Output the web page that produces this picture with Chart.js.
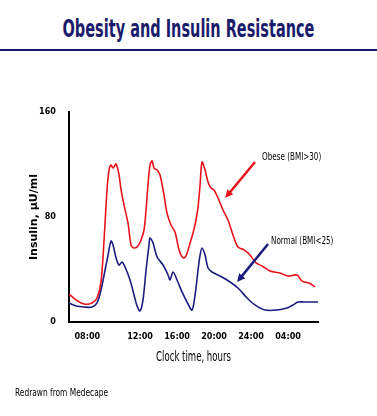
<!DOCTYPE html>
<html>
<head>
<meta charset="utf-8">
<script src="https://cdn.jsdelivr.net/npm/chart.js@4.4.1/dist/chart.umd.min.js"></script>
<style>
  body { margin: 0; background: #fff; }
  #wrap { position: relative; width: 377px; height: 416px; overflow: hidden; }
  #title { position: absolute; left: -200px; top: 14px; width: 777px; text-align: center; white-space: nowrap;
           font-family: "DejaVu Sans Condensed", "DejaVu Sans", sans-serif; font-weight: bold;
           font-size: 25px; color: #1b1b6b; transform: scaleX(0.645); transform-origin: 50% 0; }
  #rule { position: absolute; left: 0; top: 49px; width: 377px; height: 2px; background: #1b1b6b; }
  #note { position: absolute; left: 15px; top: 387px; white-space: nowrap;
          font-family: "DejaVu Sans Condensed", "DejaVu Sans", sans-serif;
          font-size: 10px; color: #000; transform: scaleX(0.83); transform-origin: 0 0; }
  canvas { position: absolute; left: 0; top: 0; }
</style>
</head>
<body>
<div id="wrap">
  <div id="title">Obesity and Insulin Resistance</div>
  <div id="rule"></div>
  <canvas id="myChart" width="377" height="416"></canvas>
  <div id="note">Redrawn from Medecape</div>
</div>
<script>
// values (hours on the clock, insulin in µU/ml)
const obeseHours = [4.32, 5.08, 5.95, 6.81, 7.35, 7.78, 8.11, 8.43, 8.65, 8.86, 9.08, 9.41, 9.73, 9.95, 10.27, 10.70, 11.03, 11.35, 11.78, 12.11, 12.43, 12.65, 12.86, 13.08, 13.30, 13.51, 13.84, 14.16, 14.59, 14.92, 15.35, 15.78, 16.22, 16.65, 16.97, 17.41, 17.73, 18.05, 18.27, 18.49, 18.70, 19.03, 19.35, 19.68, 20.00, 20.43, 20.97, 21.51, 22.05, 22.59, 23.24, 23.89, 24.54, 25.19, 26.05, 27.14, 28.00, 28.97, 29.51, 30.27, 30.92];
const obese = [21.3, 16.8, 13.7, 14.5, 18.3, 30.5, 62.5, 100.6, 115.8, 119.6, 117.3, 120.4, 112, 100.6, 89.1, 75.4, 58.7, 56.4, 57.9, 62.5, 70.1, 85.3, 104.4, 119.6, 122.7, 117.3, 115.8, 112, 96.8, 83, 73.9, 68.6, 54.9, 48.8, 50.3, 60.2, 67.8, 77.7, 87.6, 104.4, 121.9, 115.8, 106.7, 102.1, 100.6, 94.5, 85.3, 77.7, 66.3, 57.1, 54.9, 51, 45, 42.7, 38.9, 37.3, 35, 35.8, 31.2, 29.7, 26.7];

const normalHours = [4.32, 5.08, 5.95, 6.81, 7.35, 7.78, 8.22, 8.54, 8.86, 9.08, 9.41, 9.73, 10.05, 10.38, 10.92, 11.35, 11.68, 12.00, 12.32, 12.65, 12.97, 13.08, 13.41, 13.84, 14.49, 15.03, 15.24, 15.57, 16.00, 16.54, 17.08, 17.62, 17.95, 18.27, 18.49, 18.70, 19.03, 19.35, 19.78, 20.65, 21.73, 22.59, 23.57, 24.43, 25.51, 26.81, 27.89, 28.54, 29.08, 30.16, 31.24];
const normal = [14.5, 12.2, 11.4, 11.4, 14.5, 24.4, 39.6, 51, 61.7, 58.7, 48.8, 43.4, 45.7, 41.9, 32, 20.6, 12.2, 8.4, 16.8, 39.6, 58.7, 64, 60.2, 49.5, 43.4, 35.8, 32, 38.1, 32, 22.9, 15.2, 9.1, 20.6, 39.6, 51, 56.4, 51, 41.1, 38.1, 35, 30.5, 25.9, 18.3, 13, 9.1, 9.1, 10.7, 13, 15.2, 15.2, 15.2];

// the original puts its first label left of where 08:00 would fall
const tickHours = [6.3, 12, 16, 20, 24, 28];
const tickLabels = ['08:00', '12:00', '16:00', '20:00', '24:00', '04:00'];

const narrow = '"DejaVu Sans Condensed", "DejaVu Sans", sans-serif';

// labels with arrows, in data coordinates
const callouts = [
  { text: 'Obese (BMI>30)', color: '#e8141b', at: [25.19, 125.7], from: [24.43, 121.9], to: [21.2, 94.5] },
  { text: 'Normal (BMI<25)', color: '#1c1c80', at: [26.16, 61.7], from: [25.84, 59.4], to: [22.49, 30.5] }
];

// narrow text, squeezed sideways like the original's condensed face
function squeezed(ctx, text, x, y, sx, align) {
  ctx.save();
  ctx.translate(x, y);
  ctx.scale(sx, 1);
  ctx.textAlign = align;
  ctx.textBaseline = 'middle';
  ctx.fillText(text, 0, 0);
  ctx.restore();
}

const arrowPlugin = {
  id: 'arrows',
  afterDatasetsDraw(chart) {
    const ctx = chart.ctx;
    const xs = chart.scales.x, ys = chart.scales.y;
    ctx.save();
    callouts.forEach(c => {
      const x1 = xs.getPixelForValue(c.from[0]), y1 = ys.getPixelForValue(c.from[1]);
      const x2 = xs.getPixelForValue(c.to[0]), y2 = ys.getPixelForValue(c.to[1]);
      const ang = Math.atan2(y2 - y1, x2 - x1);
      const head = 9;
      ctx.strokeStyle = c.color;
      ctx.fillStyle = c.color;
      ctx.lineWidth = 2.5;
      ctx.beginPath();
      ctx.moveTo(x1, y1);
      ctx.lineTo(x2 - Math.cos(ang) * head * 0.8, y2 - Math.sin(ang) * head * 0.8);
      ctx.stroke();
      ctx.beginPath();
      ctx.moveTo(x2, y2);
      ctx.lineTo(x2 - head * Math.cos(ang - 0.45), y2 - head * Math.sin(ang - 0.45));
      ctx.lineTo(x2 - head * Math.cos(ang + 0.45), y2 - head * Math.sin(ang + 0.45));
      ctx.closePath();
      ctx.fill();

      ctx.fillStyle = '#000';
      ctx.font = '10px ' + narrow;
      squeezed(ctx, c.text, xs.getPixelForValue(c.at[0]), ys.getPixelForValue(c.at[1]), 0.8, 'left');
    });
    // x axis title
    ctx.fillStyle = '#000';
    ctx.font = '14px ' + narrow;
    squeezed(ctx, 'Clock time, hours', (xs.left + xs.right) / 2, xs.bottom - 9, 0.68, 'center');
    ctx.restore();
  }
};

const ctx = document.getElementById('myChart');
new Chart(ctx, {
  type: 'line',
  data: {
    datasets: [
      {
        label: 'Obese (BMI>30)',
        data: obeseHours.map((h, i) => ({ x: h, y: obese[i] })),
        borderColor: '#e8141b',
        borderWidth: 1.6,
        pointRadius: 0,
        tension: 0.3
      },
      {
        label: 'Normal (BMI<25)',
        data: normalHours.map((h, i) => ({ x: h, y: normal[i] })),
        borderColor: '#1c1c80',
        borderWidth: 1.6,
        pointRadius: 0,
        tension: 0.3
      }
    ]
  },
  options: {
    responsive: false,
    animation: false,
    layout: { padding: { top: 112, right: 59, bottom: 50, left: 0 } },
    plugins: { legend: { display: false }, tooltip: { enabled: false } },
    scales: {
      x: {
        type: 'linear',
        min: 4.32,
        max: 31.24,
        afterBuildTicks: scale => { scale.ticks = tickHours.map(v => ({ value: v })); },
        afterFit: scale => { scale.height = 44; },
        grid: { display: false, drawTicks: false },
        border: { display: true, color: '#000', width: 2 },
        ticks: {
          autoSkip: false,
          maxRotation: 0,
          padding: 9,
          color: '#000',
          font: { family: narrow, size: 9, weight: 'bold' },
          callback: (v, i) => tickLabels[i]
        }
      },
      y: {
        min: 0,
        max: 160,
        afterFit: scale => { scale.width = 69; },
        grid: { display: false, drawTicks: false },
        border: { display: true, color: '#000', width: 2 },
        ticks: {
          stepSize: 80,
          padding: 13,
          color: '#000',
          font: { family: narrow, size: 9, weight: 'bold' }
        },
        title: {
          display: true,
          text: 'Insulin, µU/ml',
          color: '#000',
          padding: { top: 28, bottom: 0 },
          font: { family: '"DejaVu Sans", sans-serif', size: 11, weight: 'bold' }
        }
      }
    }
  },
  plugins: [arrowPlugin]
});
</script>
</body>
</html>
